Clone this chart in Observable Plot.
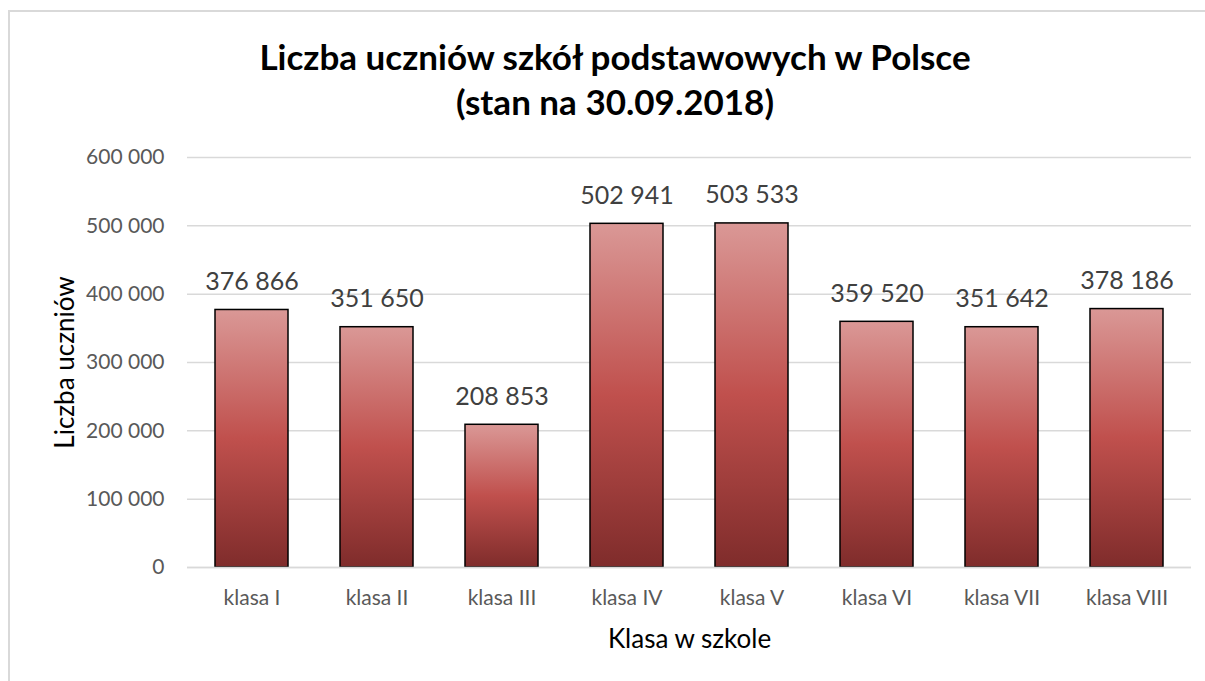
<!DOCTYPE html>
<html>
<head>
<meta charset="utf-8">
<script src="https://cdn.jsdelivr.net/npm/d3@7"></script>
<script src="https://cdn.jsdelivr.net/npm/@observablehq/plot@0.6"></script>
<style>
  html, body { margin: 0; padding: 0; background: #fff; overflow: hidden; width: 1205px; height: 681px; }
  #frame { position: absolute; left: 8px; top: 10px; width: 1300px; height: 800px; border-left: 2px solid #d9d9d9; border-top: 2px solid #d9d9d9; }
  #title { position: absolute; left: 0; top: 0; width: 1230px; height: 140px; text-align: center; font-family: Lato, "Open Sans", sans-serif; font-weight: bold; font-size: 35px; line-height: 45px; color: #000; padding-top: 34px; box-sizing: border-box; }
  #chart { position: absolute; left: 0; top: 140px; }
</style>
</head>
<body>
<div id="frame"></div>
<div id="title">Liczba uczniów szkół podstawowych w Polsce<br>(stan na 30.09.2018)</div>
<div id="chart"></div>
<script>
const categories = ["klasa I", "klasa II", "klasa III", "klasa IV", "klasa V", "klasa VI", "klasa VII", "klasa VIII"];
const values = [376866, 351650, 208853, 502941, 503533, 359520, 351642, 378186];
const yTicks = [0, 100000, 200000, 300000, 400000, 500000, 600000];
const xLabel = "Klasa w szkole";
const yLabel = "Liczba uczniów";

const data = categories.map((c, i) => ({klasa: c, n: values[i]}));
const fmt = d3.formatLocale({decimal: ",", thousands: " ", grouping: [3], currency: ["", " zł"]}).format(",d");

const plot = Plot.plot({
  width: 1205,
  height: 541,
  marginTop: 17,
  marginBottom: 114,
  marginLeft: 187,
  marginRight: 14,
  style: {fontFamily: "Lato, 'Open Sans', sans-serif", background: "transparent"},
  x: {domain: categories, paddingInner: 0.42, paddingOuter: 0.21, label: null},
  y: {domain: [0, 600000], ticks: yTicks, label: null},
  marks: [
    Plot.gridY(yTicks, {stroke: "#d9d9d9", strokeOpacity: 1, strokeWidth: 1.5}),
    Plot.axisY(yTicks, {tickSize: 0, tickPadding: 23, tickFormat: fmt, fontSize: 21, fill: "#595959"}),
    Plot.axisX({tickSize: 0, tickPadding: 23, fontSize: 21, fill: "#595959"}),
    Plot.barY(data, {x: "klasa", y: "n", fill: "url(#barGrad)", stroke: "#000", strokeWidth: 1.5}),
    Plot.ruleY([0], {stroke: "#d9d9d9", strokeWidth: 1.5}),
    Plot.text(data, {x: "klasa", y: "n", text: d => fmt(d.n), dy: -28, fontSize: 25, fill: "#404040"}),
    Plot.text([xLabel], {frameAnchor: "bottom", dy: 80, fontSize: 26, fill: "#000"}),
    Plot.text([yLabel], {frameAnchor: "left", textAnchor: "middle", dx: -122, rotate: -90, fontSize: 26, fill: "#000"})
  ]
});

const svg = d3.select(plot);
const defs = svg.insert("defs", ":first-child");
const g = defs.append("linearGradient").attr("id", "barGrad").attr("x1", 0).attr("y1", 0).attr("x2", 0).attr("y2", 1);
g.append("stop").attr("offset", "0%").attr("stop-color", "#da9896");
g.append("stop").attr("offset", "50%").attr("stop-color", "#c0504d");
g.append("stop").attr("offset", "100%").attr("stop-color", "#7f2c2b");

document.getElementById("chart").appendChild(plot);
</script>
</body>
</html>
